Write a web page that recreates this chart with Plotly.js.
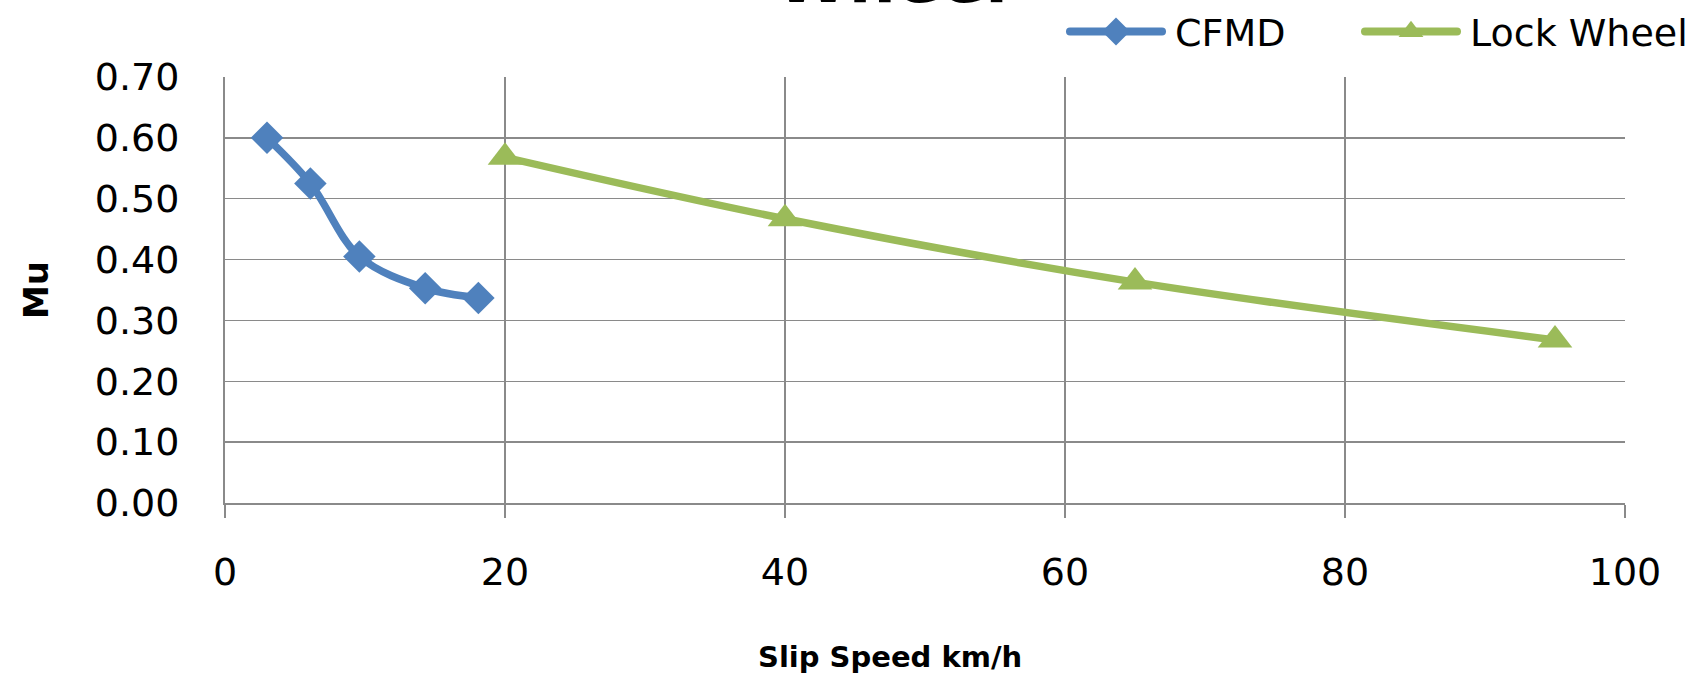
<!DOCTYPE html>
<html>
<head>
<meta charset="utf-8">
<script src="https://cdn.plot.ly/plotly-3.0.1.min.js"></script>
<style>html,body{margin:0;padding:0;background:#fff;}#chart{width:1696px;height:677px;}</style>
</head>
<body>
<div id="chart"></div>
<script>
// Data
var cfmdSpeed = [3, 6.1, 9.6, 14.3, 18.1];
var cfmdMu = [0.600, 0.525, 0.405, 0.353, 0.337];
var lockSpeed = [20, 40, 65, 95];
var lockMu = [0.568, 0.467, 0.363, 0.268];
var seriesNames = ["CFMD", "Lock Wheel"];
var xTicks = [0, 20, 40, 60, 80, 100];
var yTicks = [0, 0.1, 0.2, 0.3, 0.4, 0.5, 0.6, 0.7];
var yTickText = ["0.00", "0.10", "0.20", "0.30", "0.40", "0.50", "0.60", "0.70"];
var titleText = "Wheel";
var xTitle = "Slip Speed km/h";
var yTitle = "Mu";

var FONT = "DejaVu Sans";
var GRID = "#8a8a8a";

var traces = [
  {
    x: cfmdSpeed, y: cfmdMu, name: seriesNames[0], type: "scatter", mode: "lines+markers",
    line: {color: "#4F81BD", width: 7.5, shape: "spline"},
    marker: {symbol: "diamond", size: 25, color: "#4F81BD"}
  },
  {
    x: lockSpeed, y: lockMu, name: seriesNames[1], type: "scatter", mode: "lines+markers",
    line: {color: "#9BBB59", width: 7.5, shape: "spline"},
    marker: {symbol: "triangle-up", size: 30, color: "#9BBB59"}
  }
];

var layout = {
  width: 1696, height: 677,
  paper_bgcolor: "#ffffff", plot_bgcolor: "#ffffff",
  margin: {l: 225, r: 71, t: 77, b: 174},
  font: {family: FONT, color: "#000000"},
  showlegend: true,
  legend: {
    orientation: "h", xref: "container", yref: "container",
    x: 1065 / 1696, xanchor: "left", y: 0.953, yanchor: "middle",
    font: {family: FONT, size: 38, color: "#000"},
    bgcolor: "rgba(0,0,0,0)", itemwidth: 100,
    entrywidth: 180, entrywidthmode: "pixels"
  },
  xaxis: {
    range: [0, 100], tickvals: xTicks, ticktext: xTicks.map(String),
    showgrid: true, gridcolor: GRID, gridwidth: 1.5,
    showline: true, linecolor: GRID, linewidth: 2,
    ticks: "outside", ticklen: 13, tickcolor: GRID, tickwidth: 1.5,
    ticklabelstandoff: 21,
    tickfont: {family: FONT, size: 38, color: "#000"},
    zeroline: false, fixedrange: true,
    title: {text: ""}
  },
  yaxis: {
    range: [0, 0.7], tickvals: yTicks, ticktext: yTickText,
    showgrid: true, gridcolor: GRID, gridwidth: 1.5,
    showline: true, linecolor: GRID, linewidth: 2,
    ticks: "", ticklabelstandoff: 36,
    tickfont: {family: FONT, size: 38, color: "#000"},
    zeroline: false, fixedrange: true,
    title: {text: yTitle, font: {family: FONT, size: 34, color: "#000", weight: "bold"}, standoff: 36}
  },
  annotations: [
    {
      text: "<b>" + titleText + "</b>", xref: "paper", yref: "paper",
      x: 0.4764, y: 1.230, xanchor: "center", yanchor: "middle", showarrow: false,
      font: {family: FONT, size: 66, color: "#000"}
    },
    {
      text: "<b>" + xTitle + "</b>", xref: "paper", yref: "paper",
      x: 0.475, y: -0.3615, xanchor: "center", yanchor: "middle", showarrow: false,
      font: {family: FONT, size: 29, color: "#000"}
    }
  ]
};

Plotly.newPlot("chart", traces, layout, {displayModeBar: false, staticPlot: true}).then(function (gd) {
  var legend = gd.querySelector(".legend");
  if (legend) {
    legend.querySelectorAll("[clip-path]").forEach(function (el) { el.removeAttribute("clip-path"); });
  }
  var items = gd.querySelectorAll(".legend .traces");
  items.forEach(function (it) {
    var line = it.querySelector(".legendlines path");
    if (line) {
      line.setAttribute("d", "M5,0h92");
      line.style.strokeLinecap = "round";
      line.style.strokeWidth = "8px";
    }
    it.querySelectorAll(".legendsymbols path.scatterpts").forEach(function (p) {
      p.setAttribute("transform", "translate(51,0) scale(1.35)");
    });
  });
});
</script>
</body>
</html>
